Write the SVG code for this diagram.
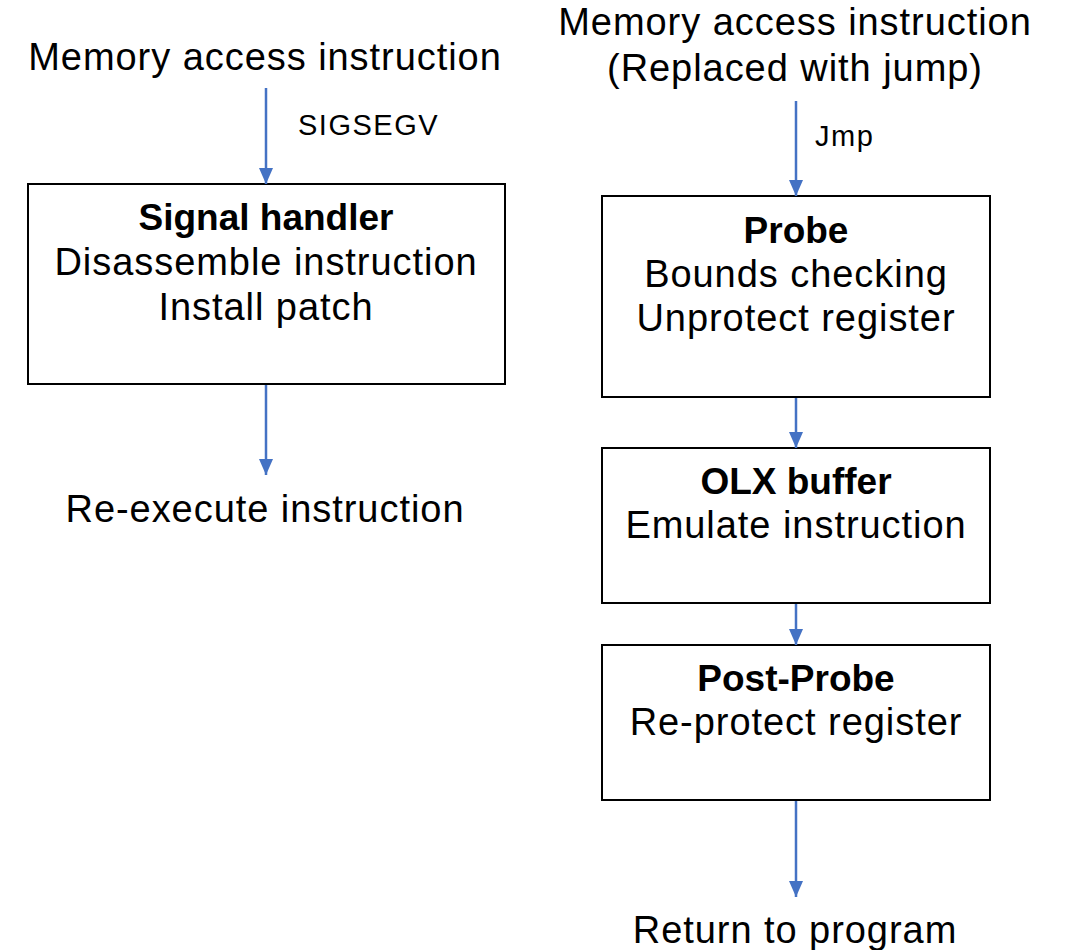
<svg xmlns="http://www.w3.org/2000/svg" width="1066" height="950" viewBox="0 0 1066 950">
  <defs>
    <marker id="arrow" markerWidth="16" markerHeight="14" refX="16" refY="7" orient="auto" markerUnits="userSpaceOnUse" viewBox="0 0 16 14">
      <path d="M0,0 L16,7 L0,14 Z" fill="#4472C4"/>
    </marker>
    <style>
      .box { fill: #ffffff; stroke: #000000; stroke-width: 2; }
      .txt { font-family: "Liberation Sans", Arial, sans-serif; font-size: 38px; letter-spacing: 0.95px; fill: #000000; text-anchor: middle; }
      .ttl { font-family: "Liberation Sans", Arial, sans-serif; font-size: 37px; font-weight: bold; fill: #000000; text-anchor: middle; }
      .lbl { font-family: "Liberation Sans", Arial, sans-serif; font-size: 29px; letter-spacing: 1.5px; fill: #000000; }
      .conn { stroke: #4472C4; stroke-width: 2.5; fill: none; }
    </style>
  </defs>
  <rect width="1066" height="950" fill="#ffffff"/>

  <!-- left column: signal path -->
  <g id="mem-left">
    <text class="txt" x="265" y="70">Memory access instruction</text>
  </g>
  <g id="signal-handler">
    <rect class="box" x="28" y="184" width="477" height="200"/>
    <text class="ttl" x="266" y="230">Signal handler</text>
    <text class="txt" x="266" y="275">Disassemble instruction</text>
    <text class="txt" x="266" y="320">Install patch</text>
  </g>
  <g id="reexec">
    <text class="txt" x="265" y="522">Re-execute instruction</text>
  </g>

  <!-- right column: jump path -->
  <g id="mem-right">
    <text class="txt" x="795" y="35">Memory access instruction</text>
    <text class="txt" x="795" y="81">(Replaced with jump)</text>
  </g>
  <g id="probe">
    <rect class="box" x="602" y="196" width="388" height="201"/>
    <text class="ttl" x="796" y="243">Probe</text>
    <text class="txt" x="796" y="287">Bounds checking</text>
    <text class="txt" x="796" y="331">Unprotect register</text>
  </g>
  <g id="olx-buffer">
    <rect class="box" x="602" y="448" width="388" height="155"/>
    <text class="ttl" x="796" y="494">OLX buffer</text>
    <text class="txt" x="796" y="538">Emulate instruction</text>
  </g>
  <g id="post-probe">
    <rect class="box" x="602" y="645" width="388" height="155"/>
    <text class="ttl" x="796" y="691">Post-Probe</text>
    <text class="txt" x="796" y="735">Re-protect register</text>
  </g>
  <g id="return">
    <text class="txt" x="795" y="943">Return to program</text>
  </g>

  <!-- connectors -->
  <g id="connectors">
    <line class="conn" x1="266" y1="88" x2="266" y2="184" marker-end="url(#arrow)"/>
    <text class="lbl" x="298" y="135">SIGSEGV</text>
    <line class="conn" x1="266" y1="385" x2="266" y2="475" marker-end="url(#arrow)"/>
    <line class="conn" x1="796" y1="101" x2="796" y2="196" marker-end="url(#arrow)"/>
    <text class="lbl" x="815" y="146">Jmp</text>
    <line class="conn" x1="796" y1="398" x2="796" y2="448" marker-end="url(#arrow)"/>
    <line class="conn" x1="796" y1="604" x2="796" y2="645" marker-end="url(#arrow)"/>
    <line class="conn" x1="796" y1="801" x2="796" y2="897" marker-end="url(#arrow)"/>
  </g>
</svg>
